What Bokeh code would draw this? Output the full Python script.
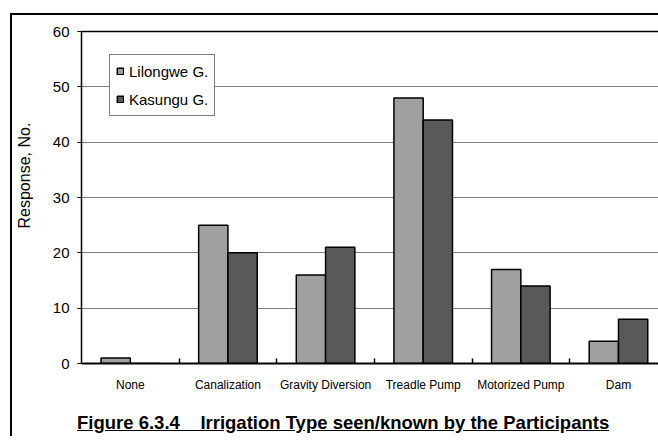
from bokeh.plotting import figure
from bokeh.models import (Range1d, FixedTicker, Legend, LegendItem, Div,
                          ColumnDataSource, LinearAxis, Title)
from bokeh.transform import dodge
from bokeh.layouts import column
from bokeh.embed import file_html
from bokeh.resources import INLINE

# Survey responses per irrigation type
categories = ["None", "Canalization", "Gravity Diversion", "Treadle Pump",
              "Motorized Pump", "Dam"]
lilongwe = [1, 25, 16, 48, 17, 4]
kasungu = [0, 20, 21, 44, 14, 8]
y_ticks = [0, 10, 20, 30, 40, 50, 60]
series_names = ["Lilongwe G.", "Kasungu G."]
y_title = "Response, No."
fig_title = ("<b><u>Figure 6.3.4&nbsp;&nbsp;&nbsp;&nbsp;"
             "Irrigation Type seen/known by the Participants</u></b>")

FONT = "Liberation Sans"
LIGHT = "#A0A0A0"
DARK = "#595959"

n = len(categories)
centers = [i + 0.5 for i in range(n)]
bounds = list(range(1, n))

source = ColumnDataSource(dict(x=centers, lil=lilongwe, kas=kasungu))

p = figure(width=646, height=395,
           x_range=Range1d(0, 5.91), y_range=Range1d(y_ticks[0], y_ticks[-1]),
           output_backend="svg", toolbar_location=None,
           min_border_left=69, min_border_top=16, min_border_bottom=47,
           min_border_right=0)

bar_w = 0.3
r1 = p.vbar(x=dodge("x", -bar_w / 2, range=p.x_range), top="lil", width=bar_w,
            source=source, fill_color=LIGHT, line_color="black", line_width=1.5)
r2 = p.vbar(x=dodge("x", bar_w / 2, range=p.x_range), top="kas", width=bar_w,
            source=source, fill_color=DARK, line_color="black", line_width=1.5)

# Frame and grid (right side of the plot area runs off the page)
p.outline_line_color = None
p.xgrid.grid_line_color = None
p.ygrid.grid_line_color = "#808080"
p.ygrid.grid_line_width = 1
p.background_fill_color = "white"
p.border_fill_color = "white"

# Category axis: names at centres, small inner ticks between groups
xa = p.below[0]
xa.ticker = FixedTicker(ticks=centers, minor_ticks=bounds)
xa.major_label_overrides = {c: name for c, name in zip(centers, categories)}
xa.major_tick_in = 0
xa.major_tick_out = 0
xa.minor_tick_in = 5
xa.minor_tick_out = 0
xa.minor_tick_line_color = "black"
xa.minor_tick_line_width = 1.5
xa.axis_line_color = "black"
xa.axis_line_width = 2
xa.major_label_text_font = FONT
xa.major_label_text_font_size = "12px"
xa.major_label_text_color = "black"
xa.major_label_standoff = 14

# Plain line along the top of the plot area
top_edge = LinearAxis(ticker=FixedTicker(ticks=[]), axis_line_color="black",
                      axis_line_width=1.5, major_tick_in=0, major_tick_out=0,
                      minor_tick_in=0, minor_tick_out=0,
                      major_label_text_font_size="0px", major_label_standoff=0)
p.add_layout(top_edge, "above")

ya = p.yaxis[0]
ya.ticker = FixedTicker(ticks=y_ticks)
ya.major_tick_in = 0
ya.major_tick_out = 4
ya.minor_tick_line_color = None
ya.major_tick_line_color = "black"
ya.axis_line_color = "black"
ya.axis_line_width = 1.5
ya.major_label_text_font = FONT
ya.major_label_text_font_size = "15px"
ya.major_label_text_color = "black"
ya.major_label_standoff = 8
# blank axis label only widens the axis panel, leaving room before the title
ya.axis_label = " "
ya.axis_label_text_font_size = "1px"
ya.axis_label_standoff = 11

# Vertical axis title, set a little above the middle of the plot area
ytitle = Title(text=y_title, align="left", offset=135, standoff=3,
               text_font=FONT, text_font_size="16px", text_font_style="normal",
               text_color="black")
p.add_layout(ytitle, "left")

legend = Legend(items=[LegendItem(label=series_names[0], renderers=[r1]),
                       LegendItem(label=series_names[1], renderers=[r2])],
                location=(28, 247))
legend.border_line_color = "black"
legend.border_line_width = 1
legend.background_fill_color = "white"
legend.background_fill_alpha = 1
legend.label_text_font = FONT
legend.label_text_font_size = "15px"
legend.label_text_color = "black"
legend.glyph_width = 8
legend.glyph_height = 8
legend.label_standoff = 5
legend.label_height = 20
legend.padding = 6
legend.spacing = 8
legend.margin = 0
p.add_layout(legend)

title = Div(text=fig_title, width=600, margin=(0, 0, 0, 65),
            styles={"font-family": FONT, "font-size": "18.5px",
                    "color": "black", "white-space": "nowrap"})

layout = column(p, title, margin=(13, 0, 0, 10),
                styles={"border-left": "2px solid black",
                        "border-top": "2px solid black",
                        "background-color": "white"})

open("out.html", "w").write(file_html(layout, INLINE))
